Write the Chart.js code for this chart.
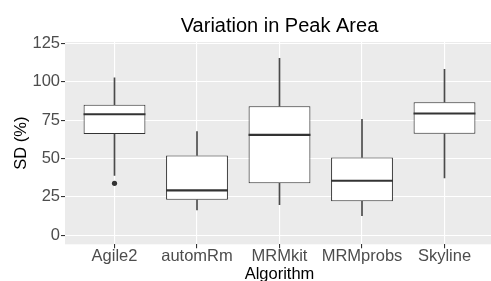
<!DOCTYPE html>
<html>
<head>
<meta charset="utf-8">
<script src="https://cdn.jsdelivr.net/npm/chart.js@4.4.0/dist/chart.umd.min.js"></script>
<style>
  html, body { margin: 0; padding: 0; background: #fff; overflow: hidden; }
</style>
</head>
<body>
<canvas id="chart" width="494" height="281"></canvas>
<script>
// box plot summary per algorithm
const categories = ['Agile2', 'automRm', 'MRMkit', 'MRMprobs', 'Skyline'];
const whiskerLow = [39, 16.5, 19.9, 12.6, 37.3];
const q1 = [65.9, 23, 33.8, 22.1, 66.1];
const medians = [78.9, 29.2, 65.4, 35.5, 79.3];
const q3 = [85.1, 52, 84.1, 50.7, 86.7];
const whiskerHigh = [102.7, 67.6, 115.3, 75.6, 108.1];
const outliers = [{ cat: 'Agile2', value: 33.8 }];

const yTicks = [0, 25, 50, 75, 100, 125];
const yMinor = [12.5, 37.5, 62.5, 87.5, 112.5];

const fontFamily = '"Liberation Sans", Arial, Helvetica, sans-serif';
const tickGrey = '#4D4D4D';
const lineGrey = '#333333';

const panelBackground = {
    id: 'panelBackground',
    beforeDraw(chart) {
        const { ctx, chartArea: a } = chart;
        ctx.save();
        ctx.fillStyle = '#EBEBEB';
        ctx.fillRect(a.left, a.top, a.right - a.left, a.bottom - a.top);
        ctx.restore();
    }
};

// median lines across each box
const medianLines = {
    id: 'medianLines',
    afterDatasetsDraw(chart) {
        const { ctx } = chart;
        const meta = chart.getDatasetMeta(2);
        const y = chart.scales.y;
        ctx.save();
        ctx.strokeStyle = lineGrey;
        ctx.lineWidth = 2.1;
        meta.data.forEach((bar, i) => {
            const py = y.getPixelForValue(medians[i]);
            ctx.beginPath();
            ctx.moveTo(bar.x - bar.width / 2, py);
            ctx.lineTo(bar.x + bar.width / 2, py);
            ctx.stroke();
        });
        ctx.restore();
    }
};

const whiskerStyle = {
    type: 'bar',
    backgroundColor: '#4A4A4A',
    borderWidth: 0,
    barThickness: 1,
    grouped: false
};

const ctx = document.getElementById('chart').getContext('2d');
new Chart(ctx, {
    type: 'bar',
    data: {
        datasets: [
            Object.assign({ data: categories.map((c, i) => ({ x: i, y: [whiskerLow[i], q1[i]] })) }, whiskerStyle),
            Object.assign({ data: categories.map((c, i) => ({ x: i, y: [q3[i], whiskerHigh[i]] })) }, whiskerStyle),
            {
                type: 'bar',
                data: categories.map((c, i) => ({ x: i, y: [q1[i], q3[i]] })),
                backgroundColor: '#FFFFFF',
                borderColor: lineGrey,
                borderWidth: 1.1,
                borderSkipped: false,
                grouped: false,
                categoryPercentage: 0.75,
                barPercentage: 1
            },
            {
                type: 'scatter',
                data: outliers.map(o => ({ x: categories.indexOf(o.cat), y: o.value })),
                backgroundColor: lineGrey,
                borderWidth: 0,
                pointRadius: 2.6,
                hoverRadius: 0
            }
        ]
    },
    options: {
        responsive: false,
        animation: false,
        layout: { padding: 0, autoPadding: false },
        plugins: {
            legend: { display: false },
            tooltip: { enabled: false },
            title: {
                display: true,
                fullSize: false,
                text: 'Variation in Peak Area',
                color: '#000',
                font: { family: fontFamily, size: 20, weight: 'normal', lineHeight: 1.2 },
                padding: { top: 14, bottom: 4 }
            }
        },
        scales: {
            x: {
                type: 'linear',
                min: -0.6,
                max: 4.6,
                offset: false,
                afterBuildTicks: s => { s.ticks = categories.map((c, i) => ({ value: i })); },
                afterFit: s => { s.height = 36.7; s.paddingLeft = 0; s.paddingRight = 0; },
                ticks: {
                    callback: v => categories[v],
                    color: tickGrey,
                    font: { family: fontFamily, size: 16.5 },
                    padding: -2,
                    autoSkip: false,
                    maxRotation: 0
                },
                grid: { offset: false, color: '#FFFFFF', lineWidth: 1.1, tickColor: lineGrey, tickLength: 4, tickWidth: 1.1 },
                border: { display: false },
                title: {
                    display: true,
                    text: 'Algorithm',
                    color: '#000',
                    font: { family: fontFamily, size: 16.5, lineHeight: 1 },
                    padding: { top: 0, bottom: -2 }
                }
            },
            y: {
                min: -6,
                max: 126,
                afterBuildTicks: s => {
                    s.ticks = yTicks.concat(yMinor).sort((a, b) => a - b).map(v => ({ value: v }));
                },
                afterFit: s => { s.width = 65; },
                ticks: {
                    callback: v => (yTicks.includes(v) ? String(v) : ''),
                    color: tickGrey,
                    font: { family: fontFamily, size: 16.5 },
                    padding: 1
                },
                grid: {
                    color: '#FFFFFF',
                    lineWidth: c => (yTicks.includes(c.tick.value) ? 1.1 : 0.55),
                    tickColor: c => (yTicks.includes(c.tick.value) ? lineGrey : 'rgba(0,0,0,0)'),
                    tickLength: 4,
                    tickWidth: 1.1
                },
                border: { display: false },
                title: {
                    display: true,
                    text: 'SD (%)',
                    color: '#000',
                    font: { family: fontFamily, size: 16.5, lineHeight: 1.2 },
                    padding: { top: 11.5, bottom: 0 }
                }
            }
        }
    },
    plugins: [panelBackground, medianLines]
});
</script>
</body>
</html>
